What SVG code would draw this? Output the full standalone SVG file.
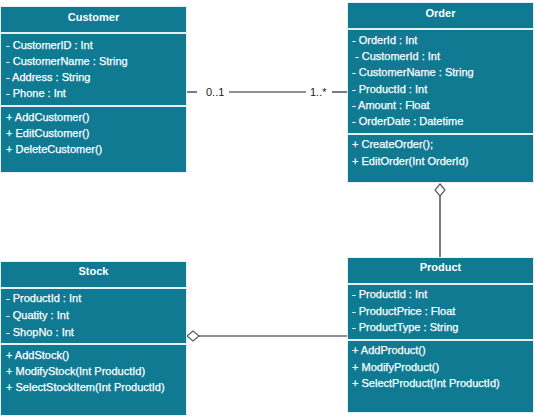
<svg xmlns="http://www.w3.org/2000/svg" width="535" height="416" viewBox="0 0 535 416">
<style>
.box{fill:#107A93;stroke:#E6F0F3;stroke-width:1}
.t{font-family:"Liberation Sans",Arial,sans-serif;font-size:11px;fill:#FFFFFF;stroke:#FFFFFF;stroke-width:0.25}
.h{font-family:"Liberation Sans",Arial,sans-serif;font-size:11px;font-weight:bold;fill:#FFFFFF;text-anchor:middle}
.ln{stroke:#1B2638;stroke-width:1.2;fill:none}
.dm{fill:#FFFFFF;stroke:#555B66;stroke-width:1.2}
.lbl{font-family:"Liberation Sans",Arial,sans-serif;font-size:11px;fill:#222222}
</style>
<rect width="535" height="416" fill="#FFFFFF"/>
<g id="connectors">
<line class="ln" x1="187" y1="92" x2="197" y2="92"/>
<line class="ln" x1="229" y1="92" x2="306" y2="92"/>
<line class="ln" x1="332" y1="92" x2="347" y2="92"/>
<text class="lbl" x="206" y="96">0..1</text>
<text class="lbl" x="310" y="96">1..*</text>
<line class="ln" x1="440" y1="196" x2="440" y2="257"/>
<path class="dm" d="M440 184 L445 190 L440 196 L435 190 Z"/>
<line class="ln" x1="199" y1="336" x2="347" y2="336"/>
<path class="dm" d="M187 336 L193 331 L199 336 L193 341 Z"/>
</g>
<g id="customer">
<rect class="box" x="0.5" y="6.5" width="186" height="26"/>
<rect class="box" x="0.5" y="33.5" width="186" height="72"/>
<rect class="box" x="0.5" y="106.5" width="186" height="66"/>
<text class="h" x="93.5" y="21">Customer</text>
<text class="t" x="6" y="49">- CustomerID : Int</text>
<text class="t" x="6" y="65">- CustomerName : String</text>
<text class="t" x="6" y="81">- Address : String</text>
<text class="t" x="6" y="97">- Phone : Int</text>
<text class="t" x="6" y="121">+ AddCustomer()</text>
<text class="t" x="6" y="137">+ EditCustomer()</text>
<text class="t" x="6" y="153">+ DeleteCustomer()</text>
</g>
<g id="order">
<rect class="box" x="347.5" y="2.5" width="186" height="26"/>
<rect class="box" x="347.5" y="29.5" width="186" height="104"/>
<rect class="box" x="347.5" y="134.5" width="186" height="48"/>
<text class="h" x="440.5" y="16.5">Order</text>
<text class="t" x="352" y="44">- OrderId : Int</text>
<text class="t" x="355" y="60">- CustomerId : Int</text>
<text class="t" x="352" y="76">- CustomerName : String</text>
<text class="t" x="352" y="93">- ProductId : Int</text>
<text class="t" x="352" y="109">- Amount : Float</text>
<text class="t" x="352" y="125">- OrderDate : Datetime</text>
<text class="t" x="352" y="148">+ CreateOrder();</text>
<text class="t" x="352" y="165">+ EditOrder(Int OrderId)</text>
</g>
<g id="stock">
<rect class="box" x="0.5" y="261.5" width="186" height="26"/>
<rect class="box" x="0.5" y="288.5" width="186" height="55"/>
<rect class="box" x="0.5" y="344.5" width="186" height="71"/>
<text class="h" x="93.5" y="275">Stock</text>
<text class="t" x="6" y="302">- ProductId : Int</text>
<text class="t" x="6" y="319">- Quatity : Int</text>
<text class="t" x="6" y="336">- ShopNo : Int</text>
<text class="t" x="6" y="359">+ AddStock()</text>
<text class="t" x="6" y="375">+ ModifyStock(Int ProductId)</text>
<text class="t" x="6" y="391">+ SelectStockItem(Int ProductId)</text>
</g>
<g id="product">
<rect class="box" x="347.5" y="257.5" width="186" height="26"/>
<rect class="box" x="347.5" y="284.5" width="186" height="55"/>
<rect class="box" x="347.5" y="340.5" width="186" height="72"/>
<text class="h" x="440.5" y="271">Product</text>
<text class="t" x="352" y="298">- ProductId : Int</text>
<text class="t" x="352" y="315">- ProductPrice : Float</text>
<text class="t" x="352" y="331">- ProductType : String</text>
<text class="t" x="352" y="354">+ AddProduct()</text>
<text class="t" x="352" y="371">+ ModifyProduct()</text>
<text class="t" x="352" y="387">+ SelectProduct(Int ProductId)</text>
</g>
</svg>
